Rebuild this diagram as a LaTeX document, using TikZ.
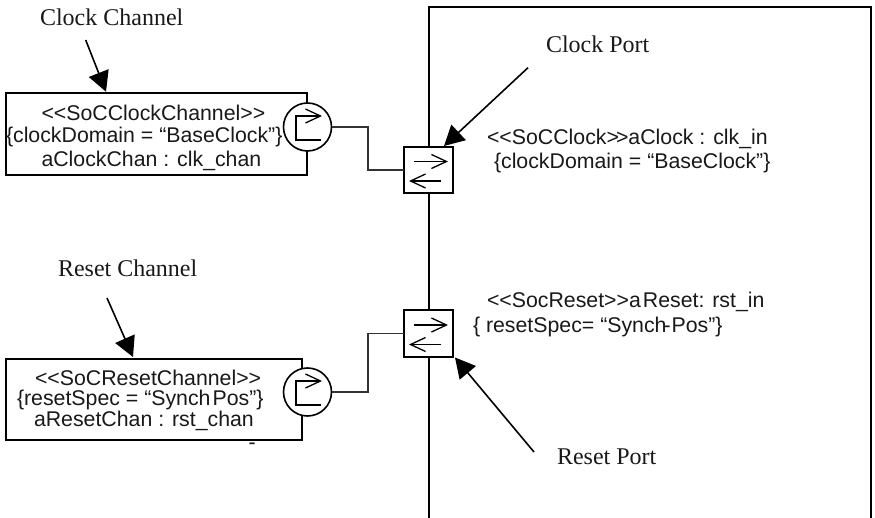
\documentclass[tikz,border=0pt]{standalone}
\usepackage{fontspec}
\newfontfamily\uisans{Liberation Sans}
\newfontfamily\uiserif{Liberation Serif}
\usetikzlibrary{arrows.meta}
\tikzset{
  x=1pt,y=-1pt,
  blockframe/.style={line width=2pt,draw=black},
  chanbox/.style={draw=black,line width=1.7pt,rectangle,fill=white,inner sep=0pt,outer sep=0pt},
  portbox/.style={draw=black,line width=1.6pt,rectangle,fill=white,minimum width=49pt,minimum height=46.5pt,inner sep=0pt,outer sep=0pt},
  chancirc/.style={draw=black,line width=1.6pt,circle,fill=white,minimum size=48pt,inner sep=0pt,outer sep=0pt},
  wire/.style={draw=black!80,line width=1.3pt},
  pointer/.style={draw=black,line width=1.6pt,-{Triangle[length=20pt,width=21pt]}},
  barb/.style={draw=black,line width=1.3pt,-{Straight Barb[length=15pt,width=14pt]}},
  sanstext/.style={anchor=base west,inner sep=0pt,outer sep=0pt,font=\uisans\fontsize{21.3}{24}\selectfont,text=black!90},
  seriftext/.style={anchor=base west,inner sep=0pt,outer sep=0pt,font=\uiserif\fontsize{24}{28}\selectfont,text=black!90},
  portglyph/.pic={
    \draw[barb] (-14.5,-8.5) -- (19.5,-8.5);
    \draw[barb] (12.5,11) -- (-19.5,11);
  },
  changlyph/.pic={
    \draw[barb] (13.5,13) -- (-11.5,13) -- (-11.5,-11) -- (14.5,-11);
  }
}
\begin{document}
\begin{tikzpicture}
\useasboundingbox (0,0) rectangle (875,518);
\fill[white] (0,0) rectangle (875,518);
% main block, open at the bottom
\draw[blockframe] (428.5,518) -- (428.5,7) -- (870.5,7) -- (870.5,518);
% channel boxes
\node[chanbox,minimum width=301pt,minimum height=82pt] (clkbox) at (156.5,134) {};
\node[chanbox,minimum width=296pt,minimum height=81pt] (rstbox) at (154,399.2) {};
% circles
\node[chancirc] (clkcirc) at (307.5,127) {};
\node[chancirc] (rstcirc) at (307.5,392) {};
\pic at (clkcirc.center) {changlyph};
\pic at (rstcirc.center) {changlyph};
% ports
\node[portbox] (clkport) at (428.5,170) {};
\node[portbox] (rstport) at (428.5,333.5) {};
\pic at (clkport.center) {portglyph};
\pic at (rstport.center) {portglyph};
% wires
\draw[wire] (clkcirc.east) -- (368,127) -- (368,170) -- (clkport.west);
\draw[wire] (rstcirc.east) -- (368,392) -- (368,333.5) -- (rstport.west);
% box texts
\node[sanstext] (t1) at (41.5,120.7) {<<SoCClockChannel>>};
\node[sanstext] (t2) at (6,142.7) {\{clockDomain = “BaseClock”\}};
\node[sanstext] (t3) at (41.5,166.7) {aClockChan : clk\_chan};
\node[sanstext] (t4) at (35,385) {<<SoCResetChannel>>};
\node[sanstext] (t5) at (17,405.5) {\{resetSpec = “Synch\kern2pt Pos”\}};
\node[sanstext] (t6) at (34,426) {aResetChan : rst\_chan};
\node[sanstext] (dash) at (248.5,449) {-};
% port texts
\node[sanstext] (t7) at (487,145) {<<SoCClock>\kern-3pt>aClock : clk\_in};
\node[sanstext] (t8) at (494,169) {\{clockDomain = “BaseClock”\}};
\node[sanstext] (t9) at (487,308) {<<SocReset>>a\kern2pt Reset: rst\_in};
\node[sanstext] (t10) at (473,333) {\{ resetSpec= “Synch\kern-3pt-\kern1pt Pos”\}};
% annotation labels
\node[seriftext] (l1) at (40,26) {Clock Channel};
\node[seriftext] (l2) at (58,277) {Reset Channel};
\node[seriftext] (l3) at (546,53) {Clock Port};
\node[seriftext] (l4) at (557,464) {Reset Port};
% annotation arrows
\coordinate (a1s) at (85.7,40);   \coordinate (a1e) at (106,91.7);
\coordinate (a2s) at (107,298);   \coordinate (a2e) at (133,357);
\coordinate (a3s) at (528,67.7);  \coordinate (a3e) at (444,146);
\coordinate (a4s) at (534,452);   \coordinate (a4e) at (455,357.5);
\draw[pointer] (a1s) -- (a1e);
\draw[pointer] (a2s) -- (a2e);
\draw[pointer] (a3s) -- (a3e);
\draw[pointer] (a4s) -- (a4e);
\end{tikzpicture}
\end{document}
